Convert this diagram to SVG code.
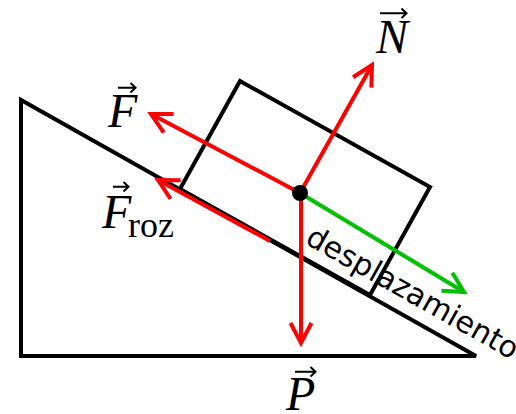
<svg xmlns="http://www.w3.org/2000/svg" width="516" height="414" viewBox="0 0 516 414">
<style>
.shape{fill:none;stroke:#000;stroke-width:4;stroke-linejoin:miter}
.red{fill:none;stroke:#ff0000;stroke-width:4}
.green{fill:none;stroke:#00c000;stroke-width:4}
.vec{fill:none;stroke:#000;stroke-width:2}
.math{font-family:"Liberation Serif","Times New Roman",serif;font-style:italic;font-size:48px;fill:#000}
.sub{font-family:"Liberation Serif","Times New Roman",serif;font-size:36px;fill:#000}
.lbl{font-family:"DejaVu Sans",sans-serif;font-size:30px;fill:#000}
</style>
<defs>
<marker id="ahR" markerUnits="userSpaceOnUse" viewBox="-30 -15 35 30" refX="0" refY="0" markerWidth="35" markerHeight="30" orient="auto" overflow="visible">
<path d="M-20,-10.5 L0,0 L-20,10.5" fill="none" stroke="#ff0000" stroke-width="4" stroke-linejoin="miter"/>
</marker>
<marker id="ahG" markerUnits="userSpaceOnUse" viewBox="-30 -15 35 30" refX="0" refY="0" markerWidth="35" markerHeight="30" orient="auto" overflow="visible">
<path d="M-20,-10.5 L0,0 L-20,10.5" fill="none" stroke="#00c000" stroke-width="4" stroke-linejoin="miter"/>
</marker>
</defs>
<g id="incline">
<polygon class="shape" points="21,100 21,356 476,356" stroke-miterlimit="3"/>
</g>
<g id="block">
<polygon class="shape" points="180,189 240,81 430,187 370,295"/>
</g>
<g id="connectors">
<path class="red" d="M300,193 L151,114" marker-end="url(#ahR)"/>
<path class="red" d="M270,241 L158,180" marker-end="url(#ahR)"/>
<path class="red" d="M300,193 L372,65" marker-end="url(#ahR)"/>
<path class="red" d="M301,193 L301,343" marker-end="url(#ahR)"/>
<path class="green" d="M300,193 L464,292" marker-end="url(#ahG)"/>
</g>
<g id="center">
<circle cx="300" cy="193" r="8" fill="#000"/>
</g>
<g id="label-N">
<text class="math" x="376" y="53">N</text>
<path class="vec" d="M380,13.3 H406 M401.5,8.5 L406.5,13.3 L401.5,18.1"/>
</g>
<g id="label-F">
<text class="math" x="108" y="127">F</text>
<path class="vec" d="M118,87.7 H135 M130.5,83 L135.5,87.7 L130.5,92.4"/>
</g>
<g id="label-Froz">
<text class="math" x="102" y="228">F</text>
<text class="sub" x="128" y="237">roz</text>
<path class="vec" d="M113,186.7 H128 M123.5,182 L128.5,186.7 L123.5,191.4"/>
</g>
<g id="label-P">
<text class="math" x="286" y="410">P</text>
<path class="vec" d="M295,371.7 H315 M310.5,367 L315.5,371.7 L310.5,376.4"/>
</g>
<g id="label-desplazamiento">
<text class="lbl" transform="translate(304,243) rotate(29.4)">desplazamiento</text>
</g>
</svg>
